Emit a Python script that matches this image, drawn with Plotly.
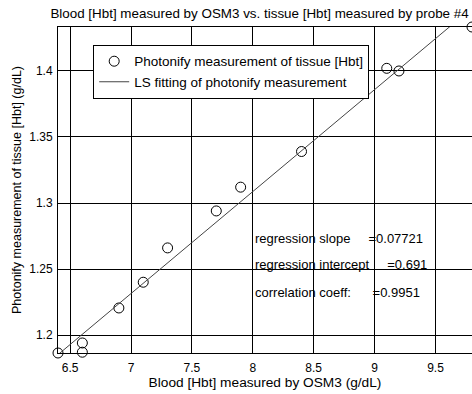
import plotly.graph_objects as go

# Data
osm3 = [6.4, 6.6, 6.6, 6.9, 7.1, 7.3, 7.7, 7.9, 8.4, 9.1, 9.2, 9.8]
photonify = [1.1864, 1.194, 1.187, 1.2205, 1.240, 1.266, 1.294, 1.312, 1.339, 1.402, 1.400, 1.4333]
slope = 0.07721
intercept = 0.691
corr = 0.9951
x_ticks = [6.5, 7, 7.5, 8, 8.5, 9, 9.5]
y_ticks = [1.2, 1.25, 1.3, 1.35, 1.4]

fit_x = [min(osm3), max(osm3)]
fit_y = [intercept + slope * v for v in fit_x]

FONT = "Liberation Sans, Arial, sans-serif"

fig = go.Figure()
fig.add_trace(go.Scatter(
    x=osm3, y=photonify, mode="markers",
    name="Photonify measurement of tissue [Hbt]",
    marker=dict(symbol="circle-open", size=10, color="black", line=dict(width=1)),
    cliponaxis=False,
))
fig.add_trace(go.Scatter(
    x=fit_x, y=fit_y, mode="lines",
    name="LS fitting of photonify measurement",
    line=dict(color="#444444", width=1),
))

nb = "\u00a0"
texts = [
    f"regression slope{nb*5}={slope}",
    f"regression intercept{nb*5}={intercept}",
    f"correlation coeff:{nb*6}={corr}",
]
ys = [1.2735, 1.2535, 1.2325]
for t, yv in zip(texts, ys):
    fig.add_annotation(x=8.0, y=yv, xref="x", yref="y", text=t, showarrow=False,
                       xanchor="left", yanchor="middle",
                       font=dict(family=FONT, size=13, color="black"))

fig.update_layout(
    width=472, height=394,
    margin=dict(l=58, r=0, t=27, b=41),
    paper_bgcolor="white", plot_bgcolor="white",
    font=dict(family=FONT, size=12, color="black"),
    title=dict(text="Blood [Hbt] measured by OSM3 vs. tissue [Hbt] measured by probe #4",
               x=0.993, xanchor="right", y=0.967, yanchor="middle",
               font=dict(family=FONT, size=13.4, color="black")),
    showlegend=True,
    legend=dict(x=0.085, y=0.945, xanchor="left", yanchor="top",
                bgcolor="white", bordercolor="black", borderwidth=1,
                font=dict(family=FONT, size=13.5, color="black"),
                tracegroupgap=0, itemwidth=30),
    xaxis=dict(range=[6.4, 9.8], tickvals=x_ticks, ticktext=[str(v) for v in x_ticks],
               showgrid=True, gridcolor="black", gridwidth=1,
               showline=True, linecolor="black", linewidth=1, mirror=True,
               ticks="inside", ticklen=4, tickcolor="black", zeroline=False,
               ticklabelstandoff=4, tickfont=dict(family=FONT, size=12),
               title=dict(text="Blood [Hbt] measured by OSM3 (g/dL)", standoff=2,
                          font=dict(family=FONT, size=13.7))),
    yaxis=dict(range=[1.1864, 1.4333], tickvals=y_ticks, ticktext=[str(v) for v in y_ticks],
               showgrid=True, gridcolor="black", gridwidth=1,
               showline=True, linecolor="black", linewidth=1, mirror=True,
               ticks="inside", ticklen=4, tickcolor="black", zeroline=False,
               ticklabelstandoff=2, tickfont=dict(family=FONT, size=12),
               title=dict(text="Photonify measurement of tissue [Hbt] (g/dL)", standoff=4,
                          font=dict(family=FONT, size=12.5))),
)

fig.write_html("out.html")
